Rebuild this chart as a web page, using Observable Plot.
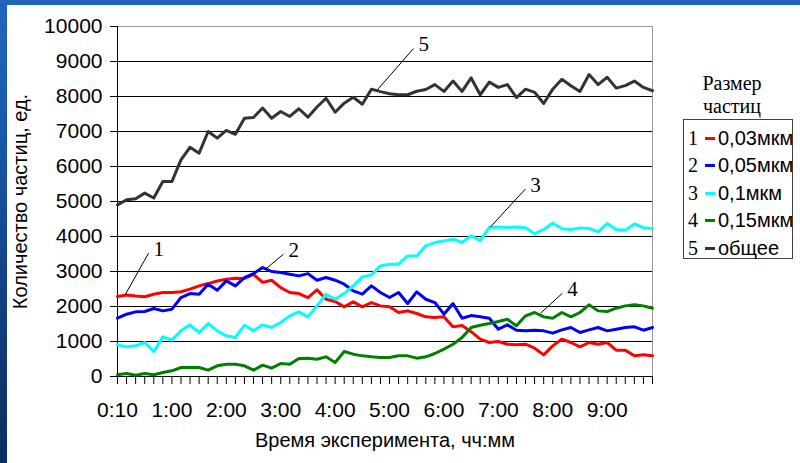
<!DOCTYPE html>
<html><head><meta charset="utf-8">
<script src="https://cdn.jsdelivr.net/npm/d3@7"></script>
<script src="https://cdn.jsdelivr.net/npm/@observablehq/plot@0.6"></script>
<style>
html,body{margin:0;padding:0;}
#wrap{position:relative;width:800px;height:463px;overflow:hidden;
  background:linear-gradient(180deg,#2166bb 0%,#1b59a8 28%,#123f80 65%,#0b2e5f 100%);}
#paper{position:absolute;left:7px;top:5px;right:0;bottom:0;background:#fff;}
#chart{position:absolute;left:0;top:0;}
.serif{font-family:"Liberation Serif","Times New Roman",serif;}
.sans{font-family:"Liberation Sans",Arial,sans-serif;}
#legTitle{position:absolute;left:672px;width:120px;top:72px;text-align:center;font-size:20px;line-height:23px;color:#000;}
#legBox{position:absolute;left:683px;top:119px;width:110px;height:140px;border:1px solid #404040;box-sizing:border-box;background:#fff;}
.row{position:absolute;left:0;height:24px;line-height:24px;white-space:nowrap;color:#000;}
.num{position:absolute;left:4px;font-size:20px;}
.dash{position:absolute;left:21px;top:11px;width:10px;height:3px;}
.lbl{position:absolute;left:34px;font-size:20px;}
</style></head>
<body>
<div id="wrap"><div id="paper"></div><div id="chart"></div>
<div id="legTitle" class="serif">Размер<br>частиц</div>
<div id="legBox"></div>
</div>
<script>
// ---- data ----
const tickLabels = ["0:10","1:00","2:00","3:00","4:00","5:00","6:00","7:00","8:00","9:00"];
const labelEvery = 6;
const nPoints = 60;
const seriesNames = ["0,03мкм","0,05мкм","0,1мкм","0,15мкм","общее"];
const seriesNums = ["1","2","3","4","5"];
const seriesColors = ["#ff0000","#0000ff","#00ffff","#008000","#333333"];

const s1 = [2285,2330,2300,2280,2350,2400,2400,2420,2495,2590,2655,2730,2780,2810,2800,2920,2690,2750,2540,2400,
            2370,2256,2475,2208,2142,1990,2132,1990,2113,2018,1990,1828,1875,1800,1704,1685,1704,1418,1460,1280,
            1066,971,1000,923,904,923,809,619,876,1066,971,847,971,923,971,752,752,590,619,590];
const s2 = [1666,1780,1847,1856,1942,1875,1923,2256,2370,2351,2637,2466,2732,2590,2827,2942,3113,3000,2970,2922,
            2875,2940,2751,2827,2751,2637,2447,2351,2590,2400,2256,2400,2085,2418,2208,2113,1780,2085,1666,1740,
            1704,1666,1352,1476,1323,1304,1323,1304,1238,1333,1400,1257,1333,1400,1304,1352,1400,1418,1323,1400];
const s3 = [904,847,876,971,714,1133,1038,1304,1476,1257,1514,1304,1161,1114,1466,1304,1476,1400,1542,1733,
            1847,1704,2018,2351,2208,2370,2590,2846,2904,3160,3208,3208,3446,3446,3732,3827,3875,3922,3830,4020,
            3880,4260,4270,4260,4270,4250,4080,4200,4380,4220,4200,4240,4230,4130,4370,4200,4180,4360,4250,4220];
const s4 = [48,86,38,86,48,114,162,257,257,257,181,305,352,352,305,181,324,238,371,352,
            514,524,495,562,400,714,638,590,562,543,543,590,590,524,562,657,781,923,1114,1400,
            1466,1514,1571,1637,1447,1733,1828,1704,1666,1828,1704,1828,2047,1875,1856,1952,2018,2047,2018,1952];
const s5 = [4900,5050,5080,5240,5100,5570,5570,6190,6550,6380,7000,6810,7030,6920,7380,7400,7670,7380,7570,7430,
            7650,7410,7700,7950,7550,7810,7980,7780,8210,8140,8080,8050,8050,8150,8200,8340,8145,8440,8145,8530,
            8050,8410,8260,8340,7970,8210,8120,7800,8210,8490,8310,8145,8630,8340,8550,8240,8310,8440,8260,8165];
const allSeries = [s1,s2,s3,s4,s5];

// leader-line callouts in data space (category index, value)
const callouts = [
  {t:"1", x1:0.88,  y1:2349, x2:3.42,  y2:3524},
  {t:"2", x1:16.32, y1:3066, x2:18.3,  y2:3495},
  {t:"3", x1:41.12, y1:4269, x2:44.98, y2:5358},
  {t:"4", x1:46.64, y1:1805, x2:49.06, y2:2378},
  {t:"5", x1:28.67, y1:8194, x2:32.64, y2:9369}
];
const yTitle = "Количество частиц, ед.";
const xTitle = "Время эксперимента, чч:мм";

// ---- chart ----
const sans = "'Liberation Sans', Arial, sans-serif";
const serif = "'Liberation Serif', 'Times New Roman', serif";
const lineMarks = allSeries.map((s,k) =>
  Plot.line(s.map((v,i)=>({i,v})), {x:"i", y:"v", stroke: seriesColors[k], strokeWidth:3, strokeLinejoin:"round"}));

const chart = Plot.plot({
  width:800, height:463,
  marginLeft:117, marginRight:148, marginTop:26, marginBottom:87,
  style:{background:"transparent", fontFamily:sans, fontSize:"21px", color:"#000", overflow:"visible"},
  x:{domain:[0,nPoints-1]},
  y:{domain:[0,10000]},
  marks:[
    Plot.ruleY(d3.range(1000,10000,1000), {stroke:"#000", strokeWidth:1}),
    Plot.ruleY([10000], {stroke:"#9a9a9a", strokeWidth:1}),
    Plot.ruleX([nPoints-1], {stroke:"#9a9a9a", strokeWidth:1}),
    Plot.axisY({ticks:d3.range(0,10001,1000), tickSize:7, tickPadding:8, tickFormat:d=>String(d), label:null, fontSize:21}),
    Plot.axisX({ticks:d3.range(0,nPoints), tickSize:8, tickPadding:18,
      tickFormat:i => i%labelEvery===0 ? tickLabels[i/labelEvery] : "", label:null, fontSize:21}),
    Plot.ruleX([0], {stroke:"#000", strokeWidth:1}),
    Plot.ruleY([0], {stroke:"#000", strokeWidth:1}),
    ...lineMarks,
    Plot.link(callouts, {x1:"x1", y1:"y1", x2:"x2", y2:"y2", stroke:"#000", strokeWidth:1}),
    Plot.text(callouts, {x:"x2", y:"y2", text:"t", dx:5, dy:-4, textAnchor:"start", lineAnchor:"middle",
      fontFamily:serif, fontSize:21, fill:"#000"}),
    Plot.text([yTitle], {frameAnchor:"left", dx:-97, rotate:-90, textAnchor:"middle", lineAnchor:"middle",
      fontSize:20, fill:"#000", fontFamily:sans}),
    Plot.text([xTitle], {frameAnchor:"bottom", dy:64, textAnchor:"middle", lineAnchor:"middle",
      fontSize:20, fill:"#000", fontFamily:sans})
  ]
});
document.getElementById("chart").appendChild(chart);

// ---- legend ----
const box = document.getElementById("legBox");
seriesNames.forEach((name,k) => {
  const row = document.createElement("div");
  row.className = "row";
  row.style.top = (6 + k*27.4) + "px";
  row.style.width = "108px";
  row.innerHTML = `<span class="num serif">${seriesNums[k]}</span><span class="dash" style="background:${seriesColors[k]}"></span><span class="lbl sans">${name}</span>`;
  box.appendChild(row);
});
</script>
</body></html>
